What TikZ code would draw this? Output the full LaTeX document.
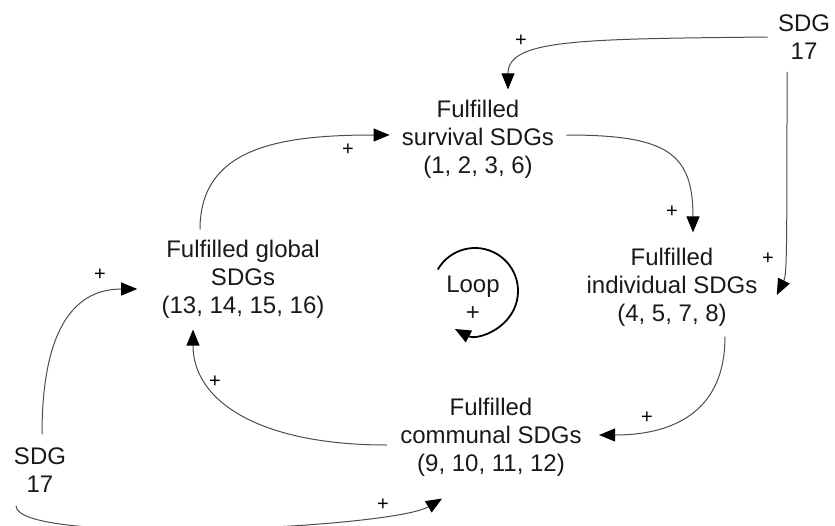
\documentclass[tikz,border=0pt]{standalone}
\usepackage{fontspec}
\setmainfont{Liberation Sans}
\usetikzlibrary{arrows.meta,calc}

\begin{document}
\begin{tikzpicture}[->, >={Triangle[length=8pt, width=6.5pt, color=black]}, x=0.5pt, y=-0.5pt, main/.style = {align=center, inner sep=3pt, text=black!90, font=\fontsize{12}{14}\selectfont}, sign/.style = {inner sep=0pt, font=\fontsize{10}{11}\selectfont}, link/.style = {draw=black!70, line width=0.5pt}]
  \useasboundingbox (0,0) rectangle (835,525);

  % Nodes for fulfilled SDGs
  \node[main] (surv) at (478,139) {Fulfilled\\survival SDGs\\(1, 2, 3, 6)};
  \node[main] (ind) at (672,287) {Fulfilled\\individual SDGs\\(4, 5, 7, 8)};
  \node[main] (comm) at (491,437) {Fulfilled\\communal SDGs\\(9, 10, 11, 12)};
  \node[main] (glob) at (243,279) {Fulfilled global\\SDGs\\(13, 14, 15, 16)};

  % Nodes for SDG 17
  \node[main] (sdg_top) at (804,37) {SDG\\17};
  \node[main] (sdg_bot) at (40,470) {SDG\\17};

  % Loop symbol
  \node[main] (loop) at (473,298) {Loop\\+};
  \coordinate (loop_c) at (475,291);
  \draw[line width=0.9pt] ([shift={(150:21.5pt)}]loop_c) arc[start angle=150, end angle=-118, radius=21.5pt];

  % Paths of the loop
  \draw[link] ($(surv.east)+(6,-4)$) .. controls +(100,0) and +(0,-80) .. ($(ind.north)+(21,-9)$);
  \draw[link] ($(ind.south)+(53,4)$) .. controls +(0,85) and +(60,0) .. ($(comm.east)+(11,-2)$);
  \draw[link] ($(comm.west)+(-7,8)$) .. controls +(-127,0) and +(0,72) .. ($(glob.south)+(-50,5)$);
  \draw[link] ($(glob.north)+(-43,-4)$) .. controls +(0,-82) and +(-110,0) .. ($(surv.west)+(-6,-4)$);

  % Paths from SDG 17
  \draw[link] ($(sdg_top.west)+(-4,0)$) .. controls +(-190,2) and +(0,-50) .. ($(surv.north)+(30,-4)$);
  \draw[link] ($(sdg_top.south)+(-17,6)$) .. controls +(0,180) and +(10,-20) .. ($(ind.east)+(13,8)$);
  \draw[link] ($(sdg_bot.north)+(2,-7)$) .. controls +(0,-110) and +(-60,0) .. ($(glob.west)+(-18,10)$);
  \draw[link] ($(sdg_bot.south)+(-24,7)$) .. controls +(0,40) and +(-50,30) .. ($(comm.south)+(-49,16)$);

  % Polarity signs
  \node[sign] (p1) at (521,41) {+};
  \node[sign] (p2) at (672,212) {+};
  \node[sign] (p3) at (768,259) {+};
  \node[sign] (p4) at (647,418) {+};
  \node[sign] (p5) at (215,382) {+};
  \node[sign] (p6) at (348,150) {+};
  \node[sign] (p7) at (100,275) {+};
  \node[sign] (p8) at (383,505) {+};
\end{tikzpicture}
\end{document}
